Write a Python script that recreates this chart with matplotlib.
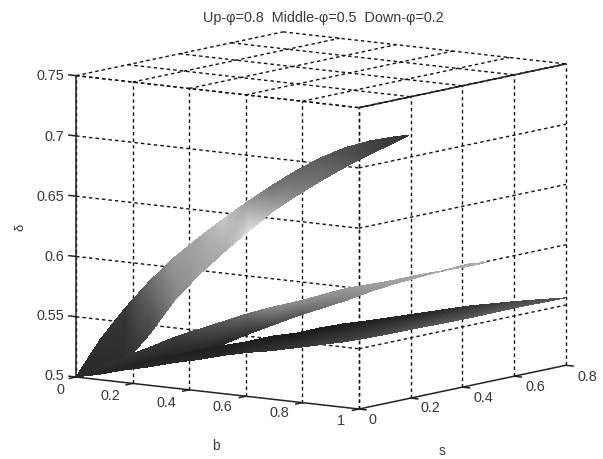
import numpy as np
import matplotlib
matplotlib.use("Agg")
import matplotlib.pyplot as plt
from mpl_toolkits.mplot3d import proj3d

plt.rcParams['font.family'] = ['Liberation Sans', 'DejaVu Sans']

W, H = 603, 460

b_ticks = [0, 0.2, 0.4, 0.6, 0.8, 1]
s_ticks = [0, 0.2, 0.4, 0.6, 0.8]
z_ticks = [0.5, 0.55, 0.6, 0.65, 0.7, 0.75]
b_tick_labels = ['0', '0.2', '0.4', '0.6', '0.8', '1']
s_tick_labels = ['0', '0.2', '0.4', '0.6', '0.8']
z_tick_labels = ['0.5', '0.55', '0.6', '0.65', '0.7', '0.75']

# Up, phi=0.8
up_b = [0, .05, .1, .15, .2, .25, .3, .35, .4, .45, .5, .55, .6, .65, .68]
up_s = [0, .04, .08, .12, .16, .2, .24, .28, .32, .36, .4, .44, .48, .52, .544]
up_lo = [.5, .504, .511, .534, .561, .582, .6, .617, .633, .646, .658, .669, .679, .688, .694]
up_hi = [.5, .531, .556, .578, .597, .613, .628, .642, .655, .667, .677, .685, .69, .693, .694]
up_gray_lo = [40, 40, 45, 70, 130, 160, 170, 220, 170, 130, 110, 90, 70, 60, 50]
up_gray_hi = [40, 50, 55, 110, 155, 165, 200, 150, 110, 100, 90, 75, 65, 55, 50]

# Middle, phi=0.5
mid_b = [0, .05, .1, .15, .2, .25, .3, .35, .4, .45, .5, .55, .6, .65, .7, .75, .8, .84]
mid_s = [0, .04, .08, .12, .16, .2, .24, .28, .32, .36, .4, .44, .48, .52, .56, .6, .64, .672]
mid_lo = [.5, .504, .507, .512, .515, .52, .524, .532, .539, .546, .552, .558, .565, .571, .576, .581, .584, .587]
mid_hi = [.5, .508, .516, .523, .531, .537, .543, .549, .554, .558, .563, .568, .571, .574, .578, .581, .586, .587]
mid_gray_lo = [40, 38, 35, 35, 35, 38, 40, 50, 70, 90, 110, 130, 150, 158, 165, 168, 170, 170]
mid_gray_hi = [40, 45, 50, 55, 60, 75, 90, 110, 140, 140, 150, 150, 160, 162, 165, 168, 170, 170]

# Down, phi=0.2
down_b = [0, .05, .1, .15, .2, .25, .3, .35, .4, .45, .5, .55, .6, .7, .8, .9, 1]
down_s = [0, .04, .08, .12, .16, .2, .24, .28, .32, .36, .4, .44, .48, .56, .64, .72, .8]
down_lo = [.5, .502, .505, .507, .51, .512, .515, .517, .518, .52, .522, .524, .527, .534, .541, .549, .556]
down_hi = [.5, .504, .508, .513, .516, .52, .523, .526, .53, .532, .536, .539, .541, .546, .551, .554, .556]
down_gray_lo = [40, 40, 40, 40, 40, 40, 40, 45, 50, 55, 60, 65, 70, 85, 90, 90, 90]
down_gray_hi = [40, 38, 35, 33, 32, 31, 30, 28, 25, 25, 25, 28, 30, 35, 50, 70, 90]

fig = plt.figure(figsize=(W / 100, H / 100), dpi=100)
ax = fig.add_axes([0, 0, 800 / W, 800 / H], projection='3d', proj_type='ortho', computed_zorder=False)
ax.set_axis_off()
ax.set_xlim(0, 1)
ax.set_ylim(0, 0.8)
ax.set_zlim(0.5, 0.75)
ax.view_init(elev=8.9, azim=-53.8)
ax.set_box_aspect((1, 1, 0.87))


def to_px(x, y, z):
    ax.M = ax.get_proj()
    ax.apply_aspect()
    u, v, _ = proj3d.proj_transform(x, y, z, ax.M)
    return ax.transData.transform((u, v))


# fit the box to the pixel size and place of the reference
span = to_px(1, 0.8, 0.5)[0] - to_px(0, 0, 0.5)[0]
ax.set_box_aspect((1, 1, 0.87), zoom=490 / span)
p0 = to_px(0, 0, 0.5)
ax.set_position([(76 - p0[0]) / W, (H - 378 - p0[1]) / H, 800 / W, 800 / H])

grid_kw = dict(color='#111111', lw=1.0, ls=(0, (2.5, 2.2)), zorder=1)
line_kw = dict(color='#222222', lw=1.1, zorder=3)

# grid on the two walls and the lid
for b in b_ticks:
    ax.plot([b, b], [0, 0], [0.5, 0.75], **grid_kw)
    ax.plot([b, b], [0, 0.8], [0.75, 0.75], **grid_kw)
for s in s_ticks:
    ax.plot([1, 1], [s, s], [0.5, 0.75], **grid_kw)
    ax.plot([0, 1], [s, s], [0.75, 0.75], **grid_kw)
for z in z_ticks[1:]:
    ax.plot([0, 1], [0, 0], [z, z], **grid_kw)
    ax.plot([1, 1], [0, 0.8], [z, z], **grid_kw)


def ribbon(b, s, lo, hi, gray_lo, gray_hi):
    # plain gouraud style shading: the same straight quads cut finer
    t = np.arange(len(b))
    tt = np.linspace(0, len(b) - 1, 300)
    rows = np.linspace(0, 1, 12)[:, None]
    bb = np.interp(tt, t, b)
    ss = np.interp(tt, t, s)
    l, h = np.interp(tt, t, lo), np.interp(tt, t, hi)
    gl, gh = np.interp(tt, t, gray_lo), np.interp(tt, t, gray_hi)
    X = np.tile(bb, (12, 1))
    Y = np.tile(ss, (12, 1))
    Z = l + (h - l) * rows
    G = (gl + (gh - gl) * rows) / 255
    colors = np.dstack([G, G, G, np.ones_like(G)])
    ax.plot_surface(X, Y, Z, facecolors=colors, rstride=1, cstride=1, shade=False,
                    linewidth=0, antialiased=False, zorder=2)


ribbon(up_b, up_s, up_lo, up_hi, up_gray_lo, up_gray_hi)
ribbon(mid_b, mid_s, mid_lo, mid_hi, mid_gray_lo, mid_gray_hi)
ribbon(down_b, down_s, down_lo, down_hi, down_gray_lo, down_gray_hi)

# solid axis lines
ax.plot([0, 0], [0, 0], [0.5, 0.75], **line_kw)
ax.plot([0, 1], [0, 0], [0.5, 0.5], **line_kw)
ax.plot([1, 1], [0, 0.8], [0.5, 0.5], **line_kw)
ax.plot([1, 1], [0, 0.8], [0.75, 0.75], **line_kw)

# tick marks
for z in z_ticks:
    ax.plot([0, -0.025], [0, 0], [z, z], **line_kw)
for b in b_ticks:
    ax.plot([b, b], [0, -0.025], [0.5, 0.5], **line_kw)
for s in s_ticks:
    ax.plot([1, 1.025], [s, s], [0.5, 0.5], **line_kw)


def label(px, py, txt, **kw):
    kw.setdefault('fontsize', 10.4)
    kw.setdefault('color', '#3a3a3a')
    kw.setdefault('ha', 'center')
    fig.text(px / W, 1 - py / H, txt, va='center', **kw)


z_label_y = [376, 316, 257, 197, 137, 76]
for y, txt in zip(z_label_y, z_tick_labels):
    label(64, y, txt, ha='right')
b_label_xy = [(60, 390), (110, 396), (166, 403), (222, 407), (279, 413), (341, 421)]
for (x, y), txt in zip(b_label_xy, b_tick_labels):
    label(x, y, txt)
s_label_xy = [(372, 420), (430, 408), (483, 398), (535, 387), (587, 377)]
for (x, y), txt in zip(s_label_xy, s_tick_labels):
    label(x, y, txt)

label(216, 446, 'b', fontsize=10)
label(442, 451, 's', fontsize=10)
label(20, 227, 'δ', fontsize=9.5, rotation=90)
label(323, 18, 'Up-φ=0.8  Middle-φ=0.5  Down-φ=0.2', fontsize=10.4)

fig.savefig('out.png', dpi=100)
